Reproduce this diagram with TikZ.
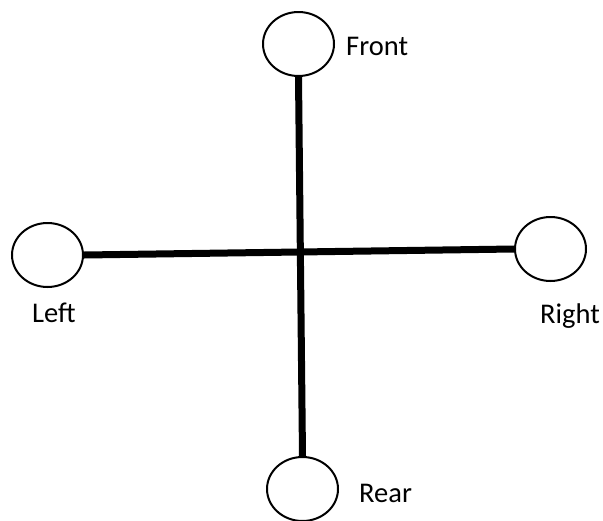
\documentclass[tikz,border=0pt]{standalone}
\usepackage{fontspec}
\setmainfont{Carlito}
\usetikzlibrary{shapes.geometric}
\begin{document}
\begin{tikzpicture}[x=1pt,y=-1pt,
  wheel/.style={draw, ellipse, line width=2pt, minimum width=71pt, minimum height=64pt, inner sep=0pt, fill=white},
  axle/.style={line width=7pt},
  lbl/.style={anchor=base west, inner sep=0pt, font=\fontsize{28.5}{34}\selectfont}]
\useasboundingbox (0,0) rectangle (603,520);
\node[wheel] (front) at (298.5,44) {};
\node[wheel] (left) at (47.5,255) {};
\node[wheel] (right) at (550.5,249) {};
\node[wheel] (rear) at (302.5,489) {};
\draw[axle] (front.south) -- (rear.north);
\draw[axle] (left.east) -- (right.west);
\node[lbl] (tf) at (346,55) {Front};
\node[lbl] (tl) at (32,322) {Left};
\node[lbl] (tr) at (540,323) {Right};
\node[lbl] (tb) at (359,502) {Rear};
\end{tikzpicture}
\end{document}
